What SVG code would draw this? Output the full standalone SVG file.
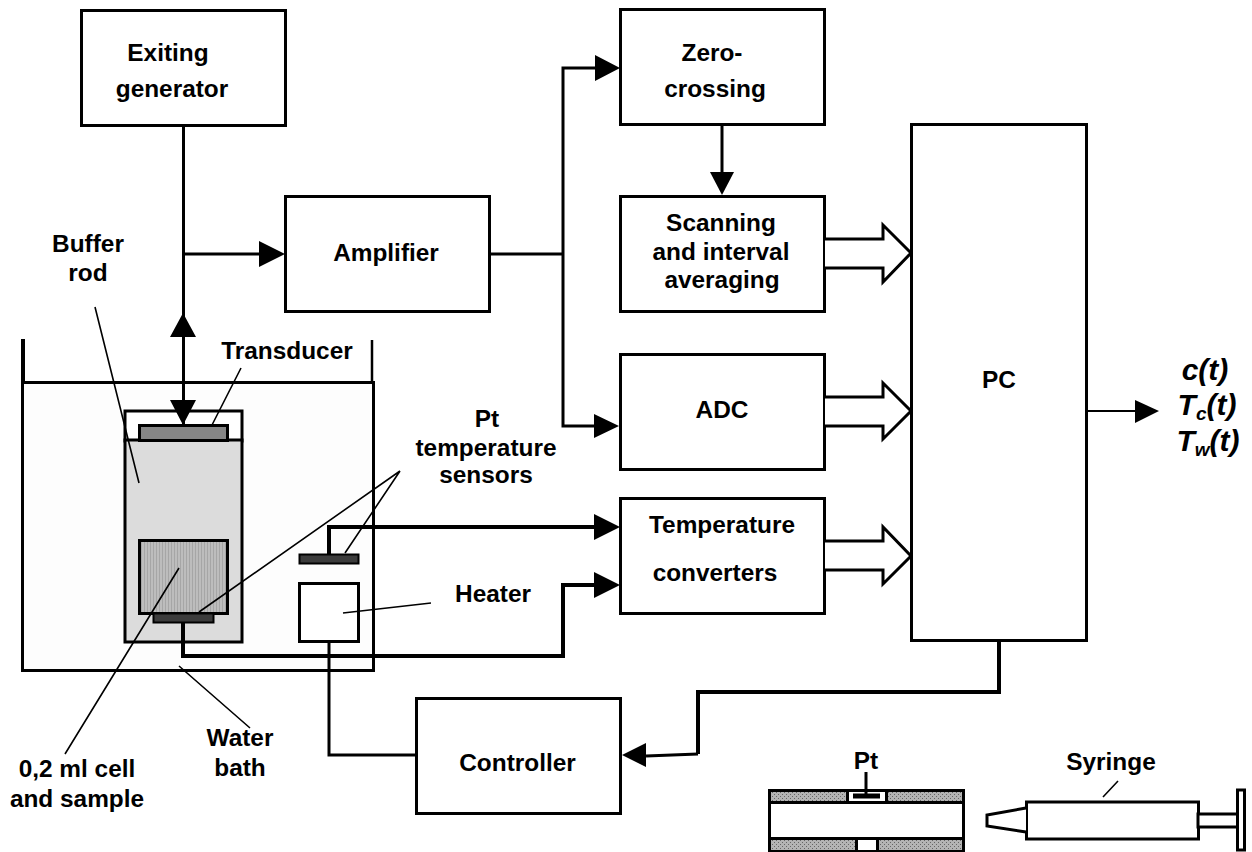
<svg xmlns="http://www.w3.org/2000/svg" width="1252" height="852" viewBox="0 0 1252 852">
<style>
.b{fill:#fff;stroke:#000;stroke-width:3}
.l{fill:none;stroke:#000;stroke-width:3}
.t{fill:none;stroke:#000;stroke-width:4}
.n{fill:none;stroke:#000;stroke-width:1.6}
.a{fill:#000;stroke:none}
text{font-family:"Liberation Sans",Arial,sans-serif;font-weight:bold;font-size:24.4px;fill:#000;text-anchor:middle}
.i{font-style:italic;font-size:30px}
.s{font-size:19px}
</style>
<defs>
<pattern id="h" width="4" height="4" patternUnits="userSpaceOnUse"><rect width="4" height="4" fill="#b4b4b4"/><path d="M0 0h1v1H0zM2 2h1v1H2z" fill="#666"/></pattern>
<pattern id="v" width="3" height="3" patternUnits="userSpaceOnUse"><rect width="3" height="3" fill="#bdbdbd"/><rect width="1" height="3" fill="#a6a6a6"/></pattern>
</defs>
<rect width="1252" height="852" fill="#fff"/>
<g id="bath"><rect x="22.500" y="382.500" width="351" height="288" fill="#fdfdfd" stroke="#000" stroke-width="3"/><path d="M23 339V382" stroke="#000" stroke-width="4"/><path d="M372 340V382" stroke="#000" stroke-width="2.500"/></g>
<g id="rod"><rect x="125" y="411" width="117" height="30" class="b"/><rect x="125" y="440" width="117" height="202" fill="#dcdcdc" stroke="#000" stroke-width="3"/></g>
<g id="transducer"><rect x="139.500" y="425.500" width="88" height="15" fill="#868686" stroke="#000" stroke-width="3"/></g>
<g id="cell"><rect x="139.500" y="540.500" width="88" height="73" fill="url(#v)" stroke="#000" stroke-width="3"/></g>
<g id="sensor-cell"><rect x="153.500" y="613.500" width="60" height="9" fill="#3c3c3c" stroke="#000" stroke-width="2"/></g>
<g id="sensor-bath"><rect x="299.500" y="554.500" width="59" height="9" fill="#3c3c3c" stroke="#000" stroke-width="2"/></g>
<g id="heater"><rect x="299.500" y="583.500" width="59" height="58" class="b"/></g>
<g id="generator"><rect x="81.500" y="10.500" width="204" height="115" class="b"/><text x="168" y="61">Exiting</text><text x="172" y="97">generator</text></g>
<g id="amplifier"><rect x="285.500" y="196.500" width="204" height="115" class="b"/><text x="386" y="261">Amplifier</text></g>
<g id="zero"><rect x="620.500" y="9.500" width="204" height="115" class="b"/><text x="712" y="61">Zero-</text><text x="715" y="97">crossing</text></g>
<g id="scanning"><rect x="620.500" y="196.500" width="204" height="115" class="b"/><text x="721" y="231">Scanning</text><text x="721" y="260">and interval</text><text x="722" y="288">averaging</text></g>
<g id="adc"><rect x="620.500" y="354.500" width="204" height="115" class="b"/><text x="722" y="418">ADC</text></g>
<g id="converters"><rect x="620.500" y="498.500" width="204" height="115" class="b"/><text x="722" y="533">Temperature</text><text x="715" y="581">converters</text></g>
<g id="pc"><rect x="911.500" y="124.500" width="175" height="516" class="b"/><text x="999" y="388">PC</text></g>
<g id="controller"><rect x="416.500" y="698.500" width="204" height="115" class="b"/><text x="517.500" y="771">Controller</text></g>
<g id="connectors">
<path class="l" d="M183.500 127V425M183.500 254H260"/><path class="a" d="M259 241L285 254L259 267zM183 313L196 337H170zM183 425L170 400H196z"/>
<path class="l" d="M490 254H563V68H596M563 254V426H596"/><path class="a" d="M595 55L620 68L595 81zM594 414L619 426L594 438z"/>
<path class="l" d="M722 125V172" stroke-width="2.500"/><path class="a" d="M722 195L710 172H734z"/>
<path class="t" d="M329 554V527H596"/><path class="a" d="M594 514L620 527L594 540z"/>
<path class="t" d="M183 622V656H563V585H596"/><path class="a" d="M594 572L620 585L594 598z"/>
<path class="l" d="M329 642V755H416"/>
<path class="t" d="M999 641V692H698V754"/><path class="l" d="M698 754L646 756"/><path class="a" d="M646 743L622 755L646 767z"/>
<path d="M1087 411H1136" fill="none" stroke="#000" stroke-width="2"/><path class="a" d="M1135 400L1159 411L1135 423z"/>
<g fill="#fff" stroke="#000" stroke-width="3"><path d="M825 239H883V225L911 253L883 282V268H825"/><path d="M825 397H883V383L911 411L883 439V426H825"/><path d="M825 541H883V527L911 556L883 584V570H825"/></g>
<path class="n" d="M95 307L139 483M241 368L212 425M400 471L199 612M400 471L345 553M179 568L65 754M179 666L250 728M431 603L343 613M1118 781L1103 797"/>
</g>
<g id="labels">
<text x="88" y="252">Buffer</text><text x="88" y="281">rod</text>
<text x="287" y="359">Transducer</text>
<text x="487" y="427">Pt</text><text x="486" y="456">temperature</text><text x="486" y="483">sensors</text>
<text x="493" y="602">Heater</text>
<text x="240" y="746">Water</text><text x="240" y="776">bath</text>
<text x="77" y="777">0,2 ml cell</text><text x="77" y="807">and sample</text>
<text x="866" y="769">Pt</text><text x="1111" y="770">Syringe</text>
<text class="i" x="1205" y="380">c(t)</text>
<text class="i" x="1207" y="415">T<tspan class="s" dy="5">c</tspan><tspan dy="-5">(t)</tspan></text>
<text class="i" x="1208" y="451">T<tspan class="s" dy="5">w</tspan><tspan dy="-5">(t)</tspan></text>
</g>
<g id="tube" stroke="#000" stroke-width="3">
<rect x="769.500" y="790.500" width="194" height="60" fill="#fff"/>
<rect x="769.500" y="790.500" width="194" height="12" fill="url(#h)"/>
<rect x="769.500" y="838.500" width="194" height="13" fill="url(#h)"/>
<rect x="847.500" y="790.500" width="39" height="12" fill="#fff"/>
<rect x="856.500" y="838.500" width="21" height="13" fill="#fff"/>
<path d="M853 796H880" stroke-width="5"/><path d="M866 772V796"/>
</g>
<g id="syringe" fill="#fff" stroke="#000" stroke-width="3">
<rect x="1026.500" y="802" width="172" height="37"/>
<path d="M1026 808L987 815V826L1026 832"/>
<rect x="1198" y="814" width="40" height="13"/>
<rect x="1237.500" y="790" width="7" height="60"/>
</g>
</svg>
